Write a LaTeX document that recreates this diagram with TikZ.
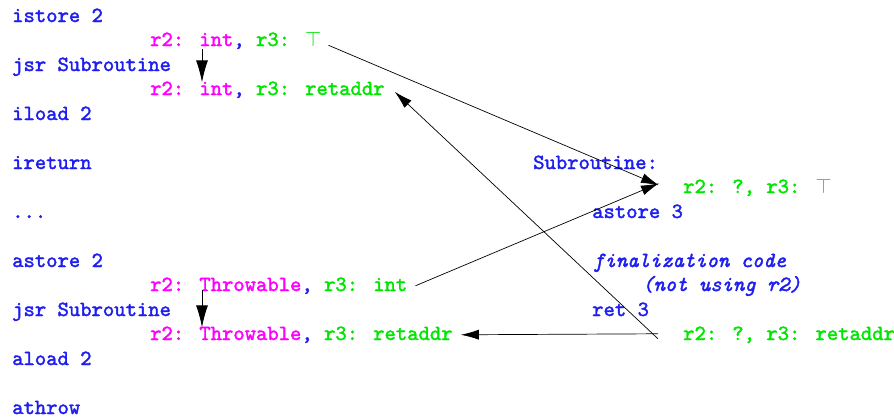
\documentclass[tikz,border=0pt]{standalone}
\usepackage{fontspec}
\usetikzlibrary{arrows.meta}
\newfontfamily\codefont{lmmono10-regular.otf}[ItalicFont=lmmono10-italic.otf, FakeBold=1.8, ItalicFeatures={FakeBold=1.8}]
\definecolor{opblue}{RGB}{30,30,240}
\definecolor{regmag}{RGB}{255,0,255}
\definecolor{reggreen}{RGB}{0,230,0}
\newcommand{\rmag}[1]{\textcolor{regmag}{#1}}
\newcommand{\rgrn}[1]{\textcolor{reggreen}{#1}}
\newcommand{\topval}{$\top$}
\tikzset{
  code/.style={font=\codefont\fontsize{21.6}{26}\selectfont, inner sep=0pt, anchor=base west, text=opblue},
  flow/.style={draw=black, line width=0.7pt, -{Latex[length=18pt,width=10pt]}},
  stepflow/.style={draw=black, line width=0.9pt, -{Latex[length=22pt,width=12pt]}}
}
\begin{document}
\begin{tikzpicture}[x=1pt,y=-1pt]
\useasboundingbox (0,0) rectangle (894,418);
% main code
\node[code] (istore) at (12,22)  {istore 2};
\node[code] (t1)     at (150,46) {\rmag{r2: int}, \rgrn{r3: \topval}};
\node[code] (jsr1)   at (12,71)  {jsr Subroutine};
\node[code] (t2)     at (150,95) {\rmag{r2: int}, \rgrn{r3: retaddr}};
\node[code] (iload)  at (12,120) {iload 2};
\node[code] (iret)   at (12,169) {ireturn};
\node[code] (dots)   at (12,218) {...};
\node[code] (astore) at (12,267) {astore 2};
\node[code] (t3)     at (150,291) {\rmag{r2: Throwable}, \rgrn{r3: int}};
\node[code] (jsr2)   at (12,316) {jsr Subroutine};
\node[code] (t4)     at (150,340) {\rmag{r2: Throwable}, \rgrn{r3: retaddr}};
\node[code] (aload)  at (12,365) {aload 2};
\node[code] (athrow) at (12,414) {athrow};
% subroutine
\node[code] (sub)    at (533,169) {Subroutine:};
\node[code] (s1)     at (683,193) {\rgrn{r2: ?, r3: \topval}};
\node[code] (ast3)   at (592,218) {astore 3};
\node[code,font=\codefont\itshape\fontsize{21.6}{26}\selectfont] (fin) at (593,267) {finalization code};
\node[code,font=\codefont\itshape\fontsize{21.6}{26}\selectfont] (nou) at (642,291) {(not using r2)};
\node[code] (ret3)   at (592,316) {ret 3};
\node[code] (s2)     at (683,340) {\rgrn{r2: ?, r3: retaddr}};
% state flow
\draw[stepflow] ([xshift=52pt]t1.south west) -- ([xshift=52pt,yshift=-1pt]t2.north west);
\draw[stepflow] ([xshift=52pt,yshift=4pt]t3.south west) -- ([xshift=52pt,yshift=-1pt]t4.north west);
\draw[flow] ([xshift=7pt,yshift=-5pt]t1.east) -- ([xshift=-24pt,yshift=2pt]s1.west);
\draw[flow] ([xshift=8pt]t3.east) -- ([xshift=-24pt,yshift=4pt]s1.west);
\draw[flow] ([xshift=-25pt,yshift=-4pt]s2.west) -- ([xshift=10pt,yshift=-2pt]t2.east);
\draw[flow] ([xshift=-25pt,yshift=1pt]s2.west) -- ([xshift=8pt]t4.east);
\end{tikzpicture}
\end{document}
